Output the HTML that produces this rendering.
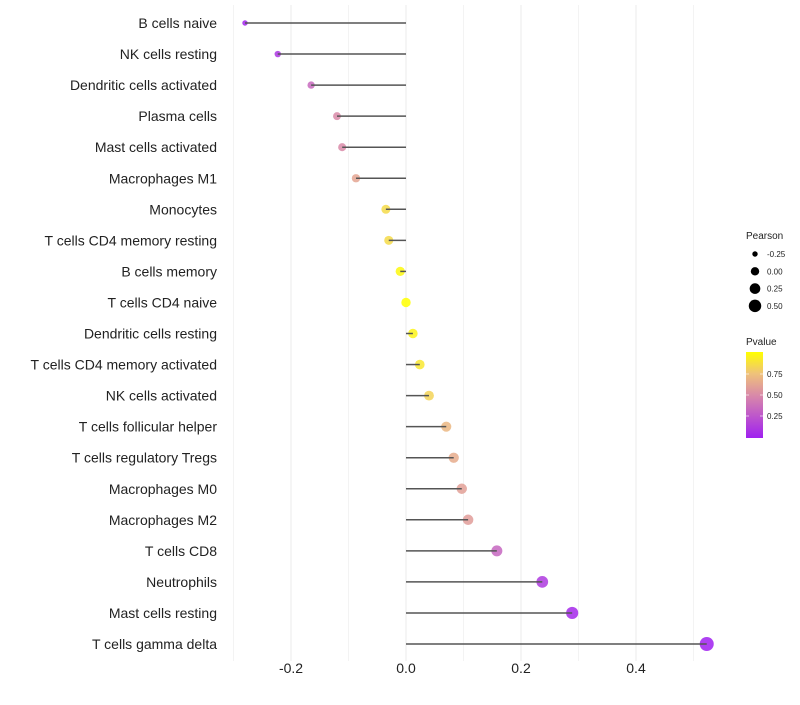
<!DOCTYPE html>
<html><head><meta charset="utf-8"><style>
body{margin:0;background:#fff;font-family:"Liberation Sans",sans-serif}
</style></head><body>
<svg id="c" width="800" height="700" xmlns="http://www.w3.org/2000/svg">
<defs><linearGradient id="pg" x1="0" y1="1" x2="0" y2="0">
<stop offset="0" stop-color="#a020f0"/><stop offset="0.5" stop-color="#d98aa8"/><stop offset="0.75" stop-color="#efc27a"/><stop offset="1" stop-color="#ffff00"/></linearGradient></defs>
</svg>
<script>
const categories=["B cells naive","NK cells resting","Dendritic cells activated","Plasma cells","Mast cells activated","Macrophages M1","Monocytes","T cells CD4 memory resting","B cells memory","T cells CD4 naive","Dendritic cells resting","T cells CD4 memory activated","NK cells activated","T cells follicular helper","T cells regulatory  Tregs ","Macrophages M0","Macrophages M2","T cells CD8","Neutrophils","Mast cells resting","T cells gamma delta"];
const pearson=[-0.28,-0.223,-0.165,-0.12,-0.111,-0.087,-0.035,-0.03,-0.01,0.0,0.012,0.024,0.04,0.07,0.083,0.097,0.108,0.158,0.237,0.289,0.523];
const pvalue=[0.02,0.1,0.35,0.5,0.5,0.62,0.85,0.85,0.97,1.0,0.95,0.9,0.82,0.7,0.65,0.6,0.58,0.33,0.12,0.04,0.0];
const xTicks=[-0.2,0,0.2,0.4];
const sizeTicks=[-0.25,0,0.25,0.5];
const colorTicks=[0.25,0.5,0.75];
const svg=document.getElementById('c');
const NS='http://www.w3.org/2000/svg';
const x=v=>406+v*575;
const y=i=>23+i*31.05;
const r=v=>Math.sqrt(Math.max(2.25,22+52*v));
function lerp(a,b,t){return a.map((c,i)=>Math.round(c+(b[i]-c)*t));}
const stops=[[0,[160,32,240]],[0.5,[217,138,168]],[0.75,[239,194,122]],[1,[255,255,0]]];
function col(p){for(let k=1;k<stops.length;k++){if(p<=stops[k][0]){const t=(p-stops[k-1][0])/(stops[k][0]-stops[k-1][0]);return 'rgb('+lerp(stops[k-1][1],stops[k][1],t).join(',')+')';}}return 'rgb(255,255,0)';}
function el(t,a,txt){const e=document.createElementNS(NS,t);for(const k in a)e.setAttribute(k,a[k]);if(txt!==undefined)e.textContent=txt;svg.appendChild(e);return e;}
[-0.3,-0.1,0.1,0.3,0.5].forEach(v=>{const g=el('line',{x1:x(v),x2:x(v),y1:5,y2:661,stroke:'#f3f3f3','stroke-width':1});

});
xTicks.forEach(v=>{const g=el('line',{x1:x(v),x2:x(v),y1:5,y2:661,stroke:'#ebebeb','stroke-width':1});


const t=el('text',{x:x(v),y:673,'text-anchor':'middle','font-size':14,fill:'#222'},v===0?'0.0':v.toFixed(1));

});
categories.forEach((c,i)=>{
const t=el('text',{x:217,y:y(i)+5,'text-anchor':'end','font-size':14,fill:'#222','xml:space':'preserve'},c);


const d=el('circle',{cx:x(pearson[i]),cy:y(i),r:r(pearson[i]),fill:col(pvalue[i]),'fill-opacity':0.85});


const l=el('line',{x1:x(0),x2:x(pearson[i]),y1:y(i),y2:y(i),stroke:'#555','stroke-width':1.5});


});
let lt=el('text',{x:746,y:239,'font-size':10,fill:'#222'},'Pearson');


sizeTicks.forEach((v,k)=>{const cy=254+k*17.3;
const d=el('circle',{cx:755,cy:cy,r:Math.min(6.5,r(v)*0.9),fill:'#000'});


const t=el('text',{x:767,y:cy+3,'font-size':8,fill:'#222'},v.toFixed(2));

});
lt=el('text',{x:746,y:345,'font-size':10,fill:'#222'},'Pvalue');


const bar=el('rect',{x:746,y:352,width:17,height:86,fill:'url(#pg)'});


colorTicks.forEach(v=>{const cy=437-v*84;
el('line',{x1:746,x2:749,y1:cy,y2:cy,stroke:'#fff','stroke-opacity':0.6});
el('line',{x1:760,x2:763,y1:cy,y2:cy,stroke:'#fff','stroke-opacity':0.6});
const t=el('text',{x:767,y:cy+3,'font-size':8,fill:'#222'},v.toFixed(2));

});
</script>
</body></html>
